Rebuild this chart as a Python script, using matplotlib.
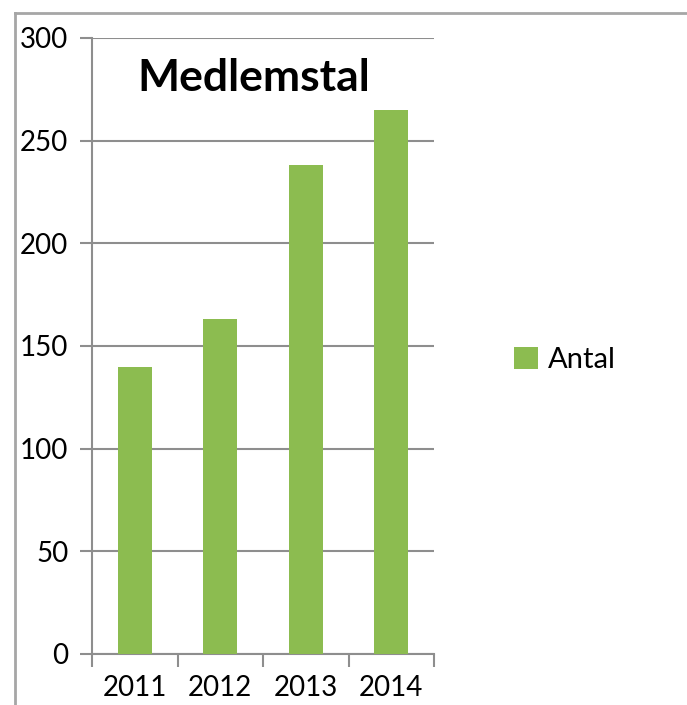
import matplotlib
matplotlib.use("Agg")
import matplotlib.pyplot as plt
from matplotlib.lines import Line2D
import numpy as np

years = ["2011", "2012", "2013", "2014"]
antal = [140, 163, 238, 265]
y_ticks = [0, 50, 100, 150, 200, 250, 300]

green = "#8cbc50"
grid_gray = "#8e8e8e"

plt.rcParams['font.family'] = ['Lato', 'DejaVu Sans']

fig = plt.figure(figsize=(6.87, 7.05), dpi=100)
ax = fig.add_axes([92 / 687, 1 - 654 / 705, (434 - 92) / 687, (654 - 38) / 705])

x = np.arange(len(years))
ax.bar(x, antal, width=0.4, color=green, label="Antal", zorder=3)

ax.set_xlim(-0.5, len(years) - 0.5)
ax.set_ylim(0, 300)
ax.set_yticks(y_ticks)
ax.set_yticklabels([str(v) for v in y_ticks], fontsize=20)
ax.set_xticks(x)
ax.set_xticklabels(years, fontsize=20)
ax.set_xticks(np.arange(-0.5, len(years)), minor=True)
ax.tick_params(axis='x', which='major', length=0, pad=15)
ax.tick_params(axis='x', which='minor', length=9, width=1.5, color=grid_gray)
ax.tick_params(axis='y', length=9, width=1.5, color=grid_gray, pad=8)

ax.yaxis.grid(True, color=grid_gray, linewidth=1.5, zorder=0)
ax.set_axisbelow(True)
for side in ['top', 'right']:
    ax.spines[side].set_visible(False)
for side in ['left', 'bottom']:
    ax.spines[side].set_color(grid_gray)
    ax.spines[side].set_linewidth(1.5)

ax.text(0.472, 0.935, "Medlemstal", transform=ax.transAxes, ha='center', va='center',
        fontsize=32, fontweight='bold')

fig.legend(loc='center left', bbox_to_anchor=(488 / 687, 1 - 360 / 705), frameon=False,
           fontsize=21, handlelength=0.8, handleheight=0.8, handletextpad=0.35)

# outer chart frame (top and left only)
fig.add_artist(Line2D([15 / 687, 1], [1 - 13 / 705, 1 - 13 / 705], color="#a6a6a6", linewidth=2))
fig.add_artist(Line2D([15 / 687, 15 / 687], [0, 1 - 13 / 705], color="#a6a6a6", linewidth=2))

fig.savefig("out.png", dpi=100)
